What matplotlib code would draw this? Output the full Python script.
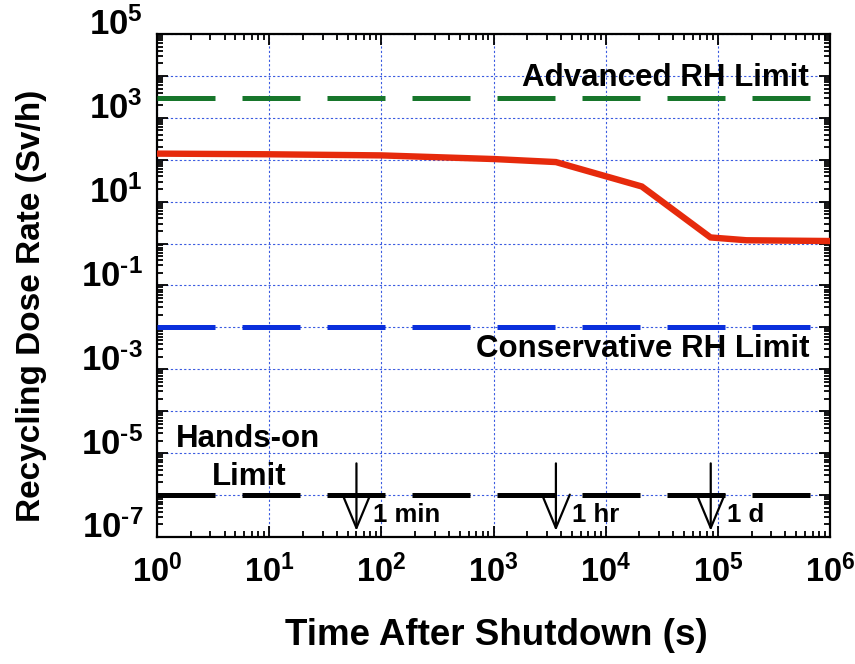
import numpy as np
import matplotlib
matplotlib.use("Agg")
import matplotlib.pyplot as plt
import matplotlib.transforms as mtransforms
from matplotlib.ticker import FixedLocator, LogLocator, FuncFormatter, NullFormatter

# dose rate after shutdown
time_s = [1, 10, 100, 1000, 3600, 2.1e4, 8.6e4, 1.8e5, 1e6]
dose_sv_h = [140, 135, 127, 104, 88, 23, 1.4, 1.2, 1.15]

# limits (Sv/h)
limit_names = ["Advanced RH Limit", "Conservative RH Limit", "Hands-on Limit"]
limit_values = [3000, 1e-2, 1e-6]
limit_colors = ["#17762b", "#0a2fdc", "#000000"]

# time markers
marker_times = [60, 3600, 86400]
marker_labels = ["1 min", "1 hr", "1 d"]

plt.rcParams["font.family"] = ["Liberation Sans", "DejaVu Sans"]
plt.rcParams["font.weight"] = "bold"
plt.rcParams["mathtext.fontset"] = "custom"
plt.rcParams["mathtext.rm"] = "Liberation Sans:bold"
plt.rcParams["mathtext.bf"] = "Liberation Sans:bold"
plt.rcParams["mathtext.it"] = "Liberation Sans:bold"

fig = plt.figure(figsize=(8.55, 6.64), dpi=100)
ax = fig.add_axes([0.1836, 0.1913, 0.7872, 0.7575])
ax.set_xscale("log")
ax.set_yscale("log")
ax.set_xlim(1, 1e6)
ax.set_ylim(1e-7, 1e5)

# limit lines
for val, col in zip(limit_values, limit_colors):
    ax.plot([1, 1e6], [val, val], color=col, lw=3.6, dashes=(11.6, 5.4),
            solid_capstyle="butt", dash_capstyle="butt", zorder=3)

ax.plot(time_s, dose_sv_h, color="#e62a0c", lw=4.6, zorder=4,
        solid_joinstyle="miter")

# arrows for 1 min / 1 hr / 1 d
for t, lab in zip(marker_times, marker_labels):
    ax.annotate("", xy=(t, 1.4e-7), xytext=(t, 5.7e-6),
                arrowprops=dict(arrowstyle="->,head_length=1.2,head_width=0.5",
                                mutation_scale=20, lw=1.6, color="black",
                                shrinkA=0, shrinkB=0), zorder=5)
    ax.text(t * 1.4, 2.3e-7, lab, fontsize=18.5, fontweight="bold",
            ha="left", va="baseline", zorder=6)

ax.text(6.5e5, 5.75e3, limit_names[0], fontsize=22.5, fontweight="bold",
        ha="right", va="baseline")
ax.text(6.5e5, 2.0e-3, limit_names[1], fontsize=22.5, fontweight="bold",
        ha="right", va="baseline")
ax.text(1.48, 1.41e-5, "Hands-on", fontsize=22.5, fontweight="bold",
        ha="left", va="baseline")
ax.text(3.07, 1.74e-6, "Limit", fontsize=22.5, fontweight="bold",
        ha="left", va="baseline")

# ticks
ax.xaxis.set_major_locator(FixedLocator(10.0 ** np.arange(0, 7)))
ax.yaxis.set_major_locator(FixedLocator(10.0 ** np.arange(-7, 6)))
ax.xaxis.set_minor_locator(LogLocator(base=10, subs=np.arange(2, 10), numticks=100))
ax.yaxis.set_minor_locator(LogLocator(base=10, subs=np.arange(2, 10), numticks=100))
ax.xaxis.set_minor_formatter(NullFormatter())
ax.yaxis.set_minor_formatter(NullFormatter())


def pow_label(e):
    # short hyphen for the minus sign, like the original
    if e < 0:
        return r"$\mathrm{10^{\text{-}%d}}$" % (-e)
    return r"$\mathrm{10^{%d}}$" % e


def xfmt(v, pos):
    return pow_label(round(np.log10(v)))


def yfmt(v, pos):
    e = round(np.log10(v))
    if e % 2 == 0:
        return ""
    return pow_label(e)


ax.xaxis.set_major_formatter(FuncFormatter(xfmt))
ax.yaxis.set_major_formatter(FuncFormatter(yfmt))

ax.tick_params(which="both", direction="in", top=True, right=True, width=1.3)
ax.tick_params(which="major", length=8)
ax.tick_params(which="minor", length=4.5)
ax.tick_params(axis="x", pad=13, labelsize=23.5)
ax.tick_params(axis="y", pad=10, labelsize=25)
for sp in ax.spines.values():
    sp.set_linewidth(1.6)

# y tick labels sit a little above their ticks in the original
shift = mtransforms.ScaledTranslation(0, 9 / 72, fig.dpi_scale_trans)
for lab in ax.get_yticklabels():
    lab.set_transform(lab.get_transform() + shift)

ax.grid(True, which="major", color="#3a5be0", linestyle=(0, (2, 2)), lw=0.8)
ax.set_axisbelow(True)

ax.set_xlabel("Time After Shutdown (s)", fontsize=26.5, fontweight="bold")
ax.set_ylabel("Recycling Dose Rate (Sv/h)", fontsize=24, fontweight="bold")
ax.xaxis.set_label_coords(0.504, -0.162)
ax.yaxis.set_label_coords(-0.163, 0.46)

fig.savefig("out.png", dpi=100)
